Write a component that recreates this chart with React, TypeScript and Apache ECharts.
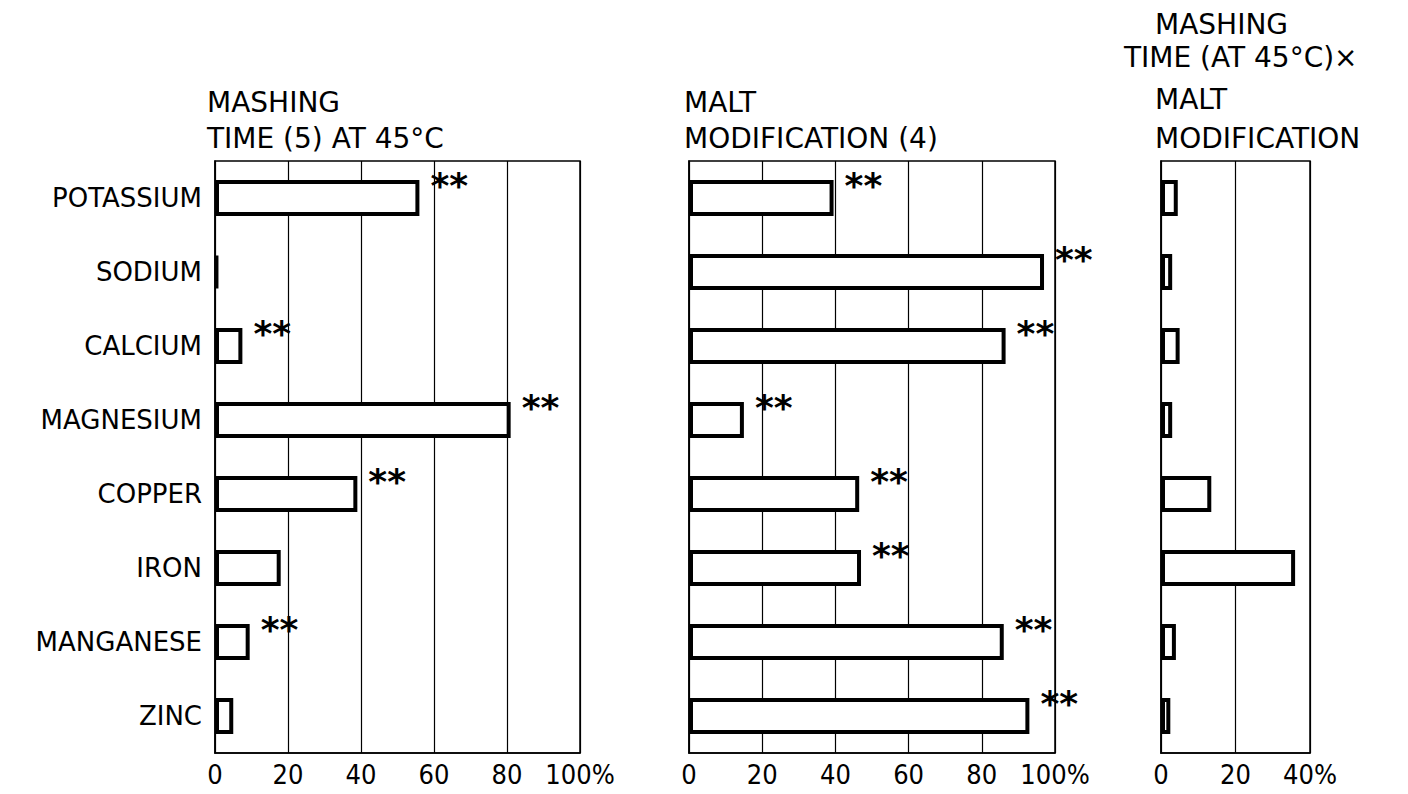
import React, { useEffect, useRef } from "react";
import * as echarts from "echarts";

const categories = ["POTASSIUM", "SODIUM", "CALCIUM", "MAGNESIUM", "COPPER", "IRON", "MANGANESE", "ZINC"];
const mashingTime = [56, 0.8, 7.5, 81, 39, 18, 9.5, 5];
const maltModification = [39.5, 97, 86.5, 15, 46.5, 47, 86, 93];
const interaction = [4.5, 3, 5, 3, 13.5, 36, 4, 2.5];
const mashingSig = [true, false, true, true, true, false, true, false];
const maltSig = [true, true, true, true, true, true, true, true];
const interactionSig = [false, false, false, false, false, false, false, false];
const sigMark = "**";

const FONT = "'DejaVu Sans', sans-serif";
const NUMFONT = "'DejaVu Sans Condensed', 'Liberation Sans Narrow', 'DejaVu Sans', sans-serif";

export default function App() {
  const ref = useRef<HTMLDivElement>(null);
  useEffect(() => {
    if (!ref.current) return;
    const chart = echarts.init(ref.current, null, { renderer: "svg" });
    const grids = [
      { left: 215, top: 161, width: 365, height: 592 },
      { left: 689, top: 161, width: 366, height: 592 },
      { left: 1161, top: 161, width: 149, height: 592 },
    ];
    const maxes = [100, 100, 40];
    const values = [mashingTime, maltModification, interaction];
    const sigs = [mashingSig, maltSig, interactionSig];

    const mkData = (vals: number[], sig: boolean[]) =>
      vals.map((v, i) => ({
        value: v,
        label: { show: sig[i] },
      }));

    const titleStyle = (text: string) => ({ text, font: `28px ${FONT}`, fill: "#000" });

    const option: any = {
      animation: false,
      backgroundColor: "#fff",
      grid: grids.map((g) => ({
        ...g,
        show: true,
        borderColor: "#000",
        borderWidth: 1.5,
        backgroundColor: "transparent",
      })),
      xAxis: grids.map((_, i) => ({
        gridIndex: i,
        type: "value",
        min: 0,
        max: maxes[i],
        interval: 20,
        axisLine: { show: true, lineStyle: { color: "#000", width: 1.5 } },
        axisTick: { show: false },
        splitLine: { show: true, lineStyle: { color: "#000", width: 1.2 } },
        axisLabel: {
          color: "#000",
          fontSize: 27,
          fontFamily: NUMFONT,
          margin: 8,
          formatter: (v: number) => (v === maxes[i] ? v + "%" : String(v)),
        },
      })),
      yAxis: grids.map((_, i) => ({
        gridIndex: i,
        type: "category",
        inverse: true,
        data: categories,
        axisLine: { show: true, lineStyle: { color: "#000", width: 1.5 } },
        axisTick: { show: false },
        splitLine: { show: false },
        axisLabel: {
          show: i === 0,
          color: "#000",
          fontSize: 26,
          fontFamily: FONT,
          margin: 13,
        },
      })),
      series: grids.map((_, i) => ({
        type: "bar",
        xAxisIndex: i,
        yAxisIndex: i,
        barWidth: 36,
        data: mkData(values[i], sigs[i]),
        itemStyle: { color: "#fff", borderColor: "#000", borderWidth: 4 },
        label: {
          show: false,
          position: "right",
          distance: 11,
          offset: [0, -13],
          formatter: sigMark,
          color: "#000",
          fontSize: 36,
          fontWeight: "bold",
          fontFamily: FONT,
        },
      })),
      graphic: [
        { type: "text", left: 207, top: 88, style: titleStyle("MASHING") },
        { type: "text", left: 207, top: 124, style: titleStyle("TIME (5) AT 45°C") },
        { type: "text", left: 684, top: 88, style: titleStyle("MALT") },
        { type: "text", left: 684, top: 124, style: titleStyle("MODIFICATION (4)") },
        { type: "text", left: 1155, top: 10, style: titleStyle("MASHING") },
        { type: "text", left: 1124, top: 43, style: titleStyle("TIME (AT 45°C)×") },
        { type: "text", left: 1155, top: 85, style: titleStyle("MALT") },
        { type: "text", left: 1155, top: 124, style: titleStyle("MODIFICATION") },
      ],
    };
    chart.setOption(option);
    return () => chart.dispose();
  }, []);
  return (
    <div
      ref={ref}
      style={{ position: "fixed", left: 0, top: 0, width: 1408, height: 794, background: "#fff" }}
    />
  );
}
